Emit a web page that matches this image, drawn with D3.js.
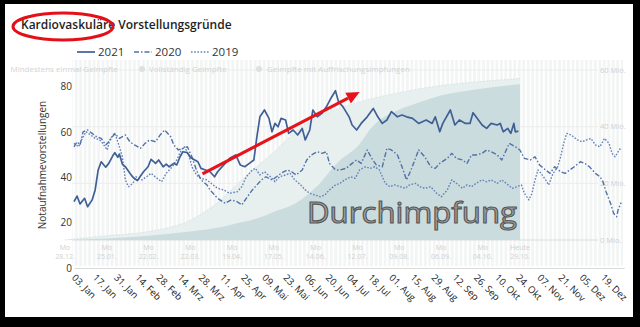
<!DOCTYPE html>
<html>
<head>
<meta charset="utf-8">
<script src="https://cdn.jsdelivr.net/npm/d3@7"></script>
<style>
  body { margin: 0; background: #000; }
  svg { display: block; }
</style>
</head>
<body>
<svg id="chart" width="640" height="327"></svg>
<script>
// x tick labels, one every 14 days starting 03. Jan
var tickLabels = ["03. Jan","17. Jan","31. Jan","14. Feb","28. Feb","14. Mrz","28. Mrz","11. Apr","25. Apr",
  "09. Mai","23. Mai","06. Jun","20. Jun","04. Jul","18. Jul","01. Aug","15. Aug","29. Aug","12. Sep",
  "26. Sep","10. Okt","24. Okt","07. Nov","21. Nov","05. Dez","19. Dez"];
var yTicks = [0, 20, 40, 60, 80];
var seriesNames = ["2021", "2020", "2019"];

// [day since 03. Jan, Notaufnahmevorstellungen]
var s2021 = [[0,29.2],[2,31.7],[4,28.2],[7,30.7],[9,27],[12,30],[14,34.4],[16,43.2],[18,46.8],[21,44.4],
  [23,46.1],[26,49.8],[27,50.8],[29,48.8],[30,50.2],[32,45.8],[34,44.6],[37,41.7],[39,40],[42,38.5],
  [44,40.5],[46,42.4],[49,44.6],[51,47.9],[54,46.1],[56,47.6],[59,44.6],[61,45.8],[63,44.6],[66,46.1],
  [68,45.4],[70,48.8],[72,51.2],[75,50.8],[77,48.8],[79,47.9],[82,46.8],[84,43.9],[87,43.2],[90,42.4],
  [93,40.2],[95,42.4],[97,43.9],[100,46.1],[103,48.3],[107,49.8],[110,45.4],[113,44.6],[116,46.1],[119,47.6],
  [121,57.8],[123,66.6],[126,69.6],[129,65.9],[131,60],[133,63.7],[135,62.2],[137,65.9],[140,65.2],[142,59.3],
  [145,60.8],[148,58.6],[151,61.5],[153,56.4],[156,60.8],[158,69.6],[161,66.6],[164,68.1],[167,71],[170,74.8],
  [173,78.1],[175,73.3],[178,71],[182,66.6],[184,63],[187,60.8],[190,63.7],[194,66.6],[198,70.3],[201,66.6],
  [204,63.7],[207,65.2],[210,68.9],[214,66.6],[217,67.4],[220,66.6],[224,65.9],[228,63.7],[233,65.2],[237,63.7],
  [239,66.6],[242,60],[244,63.7],[249,69.6],[252,63],[255,65.2],[259,63.7],[262,63.7],[264,68.4],[266,66.6],
  [270,63],[273,61.5],[276,63.7],[280,63],[282,63.7],[284,60],[287,61.5],[289,59.3],[291,63.7],[292,60],[294,60.3]];

var s2020 = [[0,53.4],[2,55.6],[4,54.2],[6,60],[9,60.8],[12,59.3],[15,57.8],[18,57.1],[21,54.2],[24,56.4],
  [27,59.3],[30,57.1],[34,58.6],[37,55.6],[40,54.2],[44,52.7],[47,54.9],[50,56.4],[54,55.6],[57,58.6],
  [60,60.8],[64,57.8],[66,54.2],[69,52],[72,52.7],[75,53.4],[78,49],[81,43.2],[84,38.8],[88,36.6],
  [90,34.4],[92,32.9],[95,30.7],[100,28.5],[104,30],[108,29.2],[111,27.8],[114,30.7],[118,34.4],[121,36.6],
  [124,38.8],[127,40.2],[131,38.8],[134,40.2],[137,41.7],[141,43.2],[144,42.4],[147,41],[151,43.2],[154,47.6],
  [157,49.8],[161,51.2],[164,50.5],[167,51.2],[169,46.1],[173,43.2],[176,43.2],[180,43.9],[184,46.1],[187,47.6],
  [190,46.1],[194,52],[197,48.3],[200,45.4],[204,44.6],[207,52.7],[210,52],[214,49.8],[217,44.6],[220,38.8],
  [223,43.2],[228,52],[232,49],[236,44.6],[239,43.9],[242,46.1],[247,48.3],[250,50.5],[253,48.3],[257,47.6],
  [260,46.1],[263,49.8],[266,49.8],[270,50.5],[273,52],[276,51.2],[280,49.8],[283,47.6],[286,52],[288,54.9],
  [292,53.4],[295,52],[298,48.3],[302,47.6],[305,49],[308,45.4],[312,43.2],[315,41.7],[318,44.6],[322,42.4],
  [325,41.7],[328,43.2],[331,44.6],[335,46.8],[338,46.1],[341,44.6],[345,41.7],[348,40.2],[350,38],[352,33.6],
  [355,28.5],[357,24.1],[359,22.6],[360,25.6],[362,28.8]];

var s2019 = [[0,54.9],[3,53.4],[6,57.8],[8,60],[11,58.6],[14,57.1],[17,56.4],[19,54.9],[22,52],[24,57.1],
  [27,59.3],[29,55.6],[32,49],[34,38.8],[36,35.8],[39,37.3],[41,40.2],[45,38.8],[48,40.2],[51,41.7],
  [55,39.5],[58,38],[61,41.7],[65,44.6],[68,47.6],[71,52],[73,53.4],[76,49.8],[78,44.6],[81,41],
  [84,39.5],[88,38.8],[92,36.6],[95,35.1],[99,34.4],[103,32.9],[108,33.6],[111,35.8],[114,40.2],[118,43.2],
  [120,43.9],[123,41],[126,42.4],[130,40.2],[133,38],[136,40.2],[140,41],[143,41.7],[146,38.8],[150,36.6],
  [153,34.4],[156,32.9],[159,32.2],[163,31.4],[166,32.2],[169,34.4],[173,36.6],[176,37.3],[179,38.8],[183,40.2],
  [186,39.5],[189,43.2],[193,44.6],[196,43.9],[199,44.6],[202,43.2],[206,37.3],[209,35.8],[212,36.6],[216,35.8],
  [219,35.1],[222,36.6],[226,37.3],[229,35.8],[232,35.1],[236,35.8],[240,32.9],[243,31.4],[247,34.4],[250,38.8],
  [253,37.3],[257,35.1],[260,36.6],[263,35.8],[266,37.3],[270,38.8],[273,38],[276,38.8],[280,37.3],[283,38.8],
  [286,37.3],[290,35.1],[293,35.8],[296,36.6],[298,32.9],[301,30],[303,32.9],[305,38.8],[307,43.2],[309,41.7],
  [312,38.8],[314,36.6],[317,41.7],[320,44.6],[322,49],[324,54.9],[326,59.3],[329,58.6],[333,56.4],[336,55.6],
  [339,56.4],[342,57.1],[345,54.2],[348,53.4],[351,57.1],[354,54.9],[356,50.5],[358,49],[360,51.2],[362,53.1]];

// faded vaccination chart behind: [day since 28.12., Mio.]
var vacFirst = [[0,0],[28,1.5],[56,3],[84,7],[104,14],[112,18],[131,27],[140,31],[153,37.7],[168,43],
  [193,48],[224,52],[252,54.5],[280,56],[305,57]];
var vacFull = [[0,0],[28,0.5],[56,1.5],[84,3],[104,4.5],[112,5.5],[131,8],[140,10],[153,12.5],[164,16.6],
  [168,18.5],[184,28],[196,33],[206,40],[224,46],[229,47],[252,51],[280,53.5],[305,55]];
var vacDays = [0, 28, 56, 84, 112, 140, 168, 196, 224, 252, 280, 305];
var vacDates = ["28.12.","25.01.","22.02.","22.03.","19.04.","17.05.","14.06.","12.07.","09.08.","06.09.","04.10.","29.10."];
var vacTicks = [0, 20, 40, 60];
var vacLegend = ["Mindestens einmal Geimpfte", "Vollständig Geimpfte", "Geimpfte mit Auffrischungsimpfungen"];

var svg = d3.select("#chart");

// black frame with white card
svg.append("rect").attr("width", 640).attr("height", 327).attr("fill", "#000");
svg.append("rect").attr("x", 5).attr("y", 4).attr("width", 628).attr("height", 313).attr("fill", "#fff");

// ---------- faded background chart ----------
var bgX = d3.scaleLinear().domain([0, 305]).range([65, 520]);
var bgY = d3.scaleLinear().domain([0, 60]).range([240, 70]);
var bg = svg.append("g");

bg.append("rect")
    .attr("x", bgX(5)).attr("y", 60)
    .attr("width", bgX(374) - bgX(5)).attr("height", 206)
    .attr("fill", "#f3f5f5");
bg.selectAll("line.stripe")
    .data(d3.range(6, 374, 3))
    .join("line")
      .attr("x1", function(d) { return bgX(d); })
      .attr("x2", function(d) { return bgX(d); })
      .attr("y1", 60).attr("y2", 266)
      .attr("stroke", "#fff").attr("stroke-width", 1.6);

bg.selectAll("line.grid")
    .data(vacTicks)
    .join("line")
      .attr("x1", bgX(5)).attr("x2", 598)
      .attr("y1", function(d) { return bgY(d); })
      .attr("y2", function(d) { return bgY(d); })
      .attr("stroke", function(d) { return d === 0 ? "#dcdcdc" : "#ebeded"; })
      .attr("stroke-width", 1);

var vacArea = d3.area()
    .x(function(d) { return bgX(d[0]); })
    .y0(bgY(0))
    .y1(function(d) { return bgY(d[1]); })
    .curve(d3.curveMonotoneX);

bg.append("path").datum(vacFirst).attr("d", vacArea).attr("fill", "#e7efef");
bg.append("path").datum(vacFirst)
    .attr("d", vacArea.lineY1())
    .attr("fill", "none").attr("stroke", "#d5e2e3").attr("stroke-dasharray", "1.5,1.5");
bg.append("path").datum(vacFull).attr("d", vacArea).attr("fill", "#cbdcdf");

bg.selectAll("text.vt")
    .data(vacTicks)
    .join("text")
      .attr("x", 600)
      .attr("y", function(d) { return bgY(d); })
      .attr("dy", "0.35em")
      .attr("font-family", "Open Sans")
      .attr("font-size", 7.5)
      .attr("fill", "#cfcfcf")
      .text(function(d) { return d + " Mio."; });

var vl = bg.selectAll("g.vl")
    .data(vacDays)
    .join("g")
      .attr("transform", function(d) { return "translate(" + bgX(d) + ",0)"; })
      .attr("font-family", "Open Sans")
      .attr("font-size", 7)
      .attr("fill", "#d0d0d0")
      .attr("text-anchor", "middle");
vl.append("text").attr("y", 250).text(function(d, i) { return i === vacDays.length - 1 ? "Heute" : "Mo"; });
vl.append("text").attr("y", 258.5).text(function(d, i) { return vacDates[i]; });

var lg = bg.append("g").attr("font-family", "Open Sans").attr("font-size", 8).attr("fill", "#d3d3d3");
lg.append("text").attr("x", 118).attr("y", 72).attr("text-anchor", "end").text(vacLegend[0]);
lg.append("circle").attr("cx", 142).attr("cy", 69).attr("r", 3).attr("fill", "#dde0e0");
lg.append("text").attr("x", 149).attr("y", 72).text(vacLegend[1]);
lg.append("circle").attr("cx", 259).attr("cy", 69).attr("r", 3).attr("fill", "#dde0e0");
lg.append("text").attr("x", 267).attr("y", 72).text(vacLegend[2]);

// ---------- main chart ----------
var x = d3.scaleLinear().domain([0, 364]).range([74, 74 + 364 * 10.58 / 7]);
var y = d3.scaleLinear().domain([0, 80]).range([268, 86.4]);

var styles = {
  "2021": { color: "#3f5f95", width: 1.7, dash: null },
  "2020": { color: "#5271a6", width: 1.4, dash: "5,2,1.5,2" },
  "2019": { color: "#6482b8", width: 1.4, dash: "1.6,1.6" }
};

// y axis
var yAxis = svg.append("g")
    .attr("transform", "translate(74,0)")
    .call(d3.axisLeft(y).tickValues(yTicks).tickSize(0).tickPadding(2));
yAxis.select(".domain").remove();
yAxis.selectAll("text").attr("font-family", "Open Sans").attr("font-size", 10).attr("fill", "#333");

svg.append("text")
    .attr("transform", "translate(46,165) rotate(-90)")
    .attr("text-anchor", "middle")
    .attr("font-family", "Open Sans")
    .attr("font-size", 10)
    .attr("fill", "#333")
    .text("Notaufnahmevorstellungen");

// x axis
var xAxis = svg.append("g")
    .attr("transform", "translate(0,268)")
    .call(d3.axisBottom(x)
      .tickValues(tickLabels.map(function(d, i) { return i * 14; }))
      .tickFormat(function(d, i) { return tickLabels[i]; })
      .tickSize(0));
xAxis.select(".domain").attr("stroke", "#dadada");
xAxis.selectAll("text")
    .attr("x", 0).attr("y", 0).attr("dy", "0.35em")
    .attr("text-anchor", "start")
    .attr("transform", "translate(-1,8) rotate(45)")
    .attr("font-family", "Open Sans")
    .attr("font-size", 9.5)
    .attr("fill", "#222");

// lines
var line = d3.line()
    .x(function(d) { return x(d[0]); })
    .y(function(d) { return y(d[1]); });

[[s2019, "2019"], [s2020, "2020"], [s2021, "2021"]].forEach(function(s) {
  var st = styles[s[1]];
  svg.append("path")
      .datum(s[0])
      .attr("d", line)
      .attr("fill", "none")
      .attr("stroke", st.color)
      .attr("stroke-width", st.width)
      .attr("stroke-dasharray", st.dash)
      .attr("stroke-linejoin", "round");
});

// legend
var legend = svg.append("g").selectAll("g")
    .data(seriesNames)
    .join("g")
      .attr("transform", function(d, i) { return "translate(" + (77 + i * 57) + ",52)"; });
legend.append("line")
    .attr("x1", 0).attr("x2", 18)
    .attr("stroke", function(d) { return styles[d].color; })
    .attr("stroke-width", function(d) { return styles[d].width; })
    .attr("stroke-dasharray", function(d) { return styles[d].dash; });
legend.append("text")
    .attr("x", 21).attr("dy", "0.35em")
    .attr("font-family", "Open Sans")
    .attr("font-size", 11.5)
    .attr("fill", "#333")
    .text(function(d) { return d; });

// title
svg.append("text")
    .attr("x", 21).attr("y", 28.5)
    .attr("font-family", "Open Sans")
    .attr("font-weight", 600)
    .attr("font-size", 12)
    .attr("fill", "#1e1e1e")
    .text("Kardiovaskuläre Vorstellungsgründe");

// overlay text
svg.append("text")
    .attr("x", 307).attr("y", 223)
    .attr("font-family", "Open Sans")
    .attr("font-size", 30)
    .attr("textLength", 210)
    .attr("lengthAdjust", "spacingAndGlyphs")
    .attr("fill", "#a2a2a2")
    .attr("stroke", "#555")
    .attr("stroke-width", 1.1)
    .text("Durchimpfung");

// red arrow (trend), placed in data coordinates
var a0 = [x(85), y(41.5)], a1 = [x(189), y(77.5)];
var ang = Math.atan2(a1[1] - a0[1], a1[0] - a0[0]);
var hl = 13, hw = 6;
var base = [a1[0] - hl * Math.cos(ang), a1[1] - hl * Math.sin(ang)];
svg.append("line")
    .attr("x1", a0[0]).attr("y1", a0[1])
    .attr("x2", base[0]).attr("y2", base[1])
    .attr("stroke", "#e8121b").attr("stroke-width", 3.2);
svg.append("path")
    .attr("d", "M" + a1 + "L" + [base[0] + hw * Math.sin(ang), base[1] - hw * Math.cos(ang)] +
               "L" + [base[0] - hw * Math.sin(ang), base[1] + hw * Math.cos(ang)] + "Z")
    .attr("fill", "#e8121b");

// red ellipse around the title word
svg.append("ellipse")
    .attr("cx", 63).attr("cy", 26.5)
    .attr("rx", 50).attr("ry", 13.5)
    .attr("fill", "none")
    .attr("stroke", "#e3101a")
    .attr("stroke-width", 3);
</script>
</body>
</html>
